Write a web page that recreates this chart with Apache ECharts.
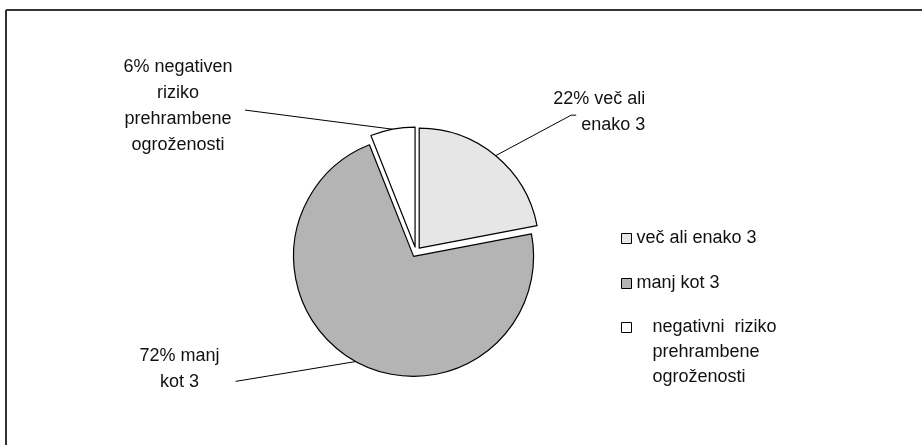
<!DOCTYPE html>
<html>
<head>
<meta charset="utf-8">
<script src="https://cdn.jsdelivr.net/npm/echarts@6/dist/echarts.min.js"></script>
<style>
html,body{margin:0;padding:0;background:#fff;}
#chart{width:922px;height:445px;}
</style>
</head>
<body>
<div id="chart"></div>
<script>
// ---- data ----
var categories = ['več ali enako 3', 'manj kot 3', 'negativni  riziko\nprehrambene\nogroženosti'];
var values = [22, 72, 6];
var sliceLabels = ['22% več ali\nenako 3', '72% manj\nkot 3', '6% negativen\nriziko\nprehrambene\nogroženosti'];
var sliceColors = ['#e6e6e6', '#b4b4b4', '#ffffff'];

// label placement (text anchors, alignment and leader-line ends)
var labelPos = [[642, 116], [182, 365], [179, 111]];
var labelAlign = ['right', 'center', 'center'];
var lineEnds = [[[568, 119], [573, 119]], [[238, 377]], [[246, 115]]];

var FONT = 'Liberation Sans, Arial, sans-serif';

var chart = echarts.init(document.getElementById('chart'), null, {renderer: 'canvas'});

var data = values.map(function (v, i) {
  return {
    name: categories[i],
    value: v,
    selected: true,
    itemStyle: {color: sliceColors[i], borderColor: '#000', borderWidth: 1.2},
    label: {formatter: sliceLabels[i]}
  };
});

function legendFor(i, top, extra) {
  return Object.assign({
    data: [categories[i]],
    orient: 'vertical',
    left: 621,
    top: top,
    padding: 0,
    itemWidth: 10,
    itemHeight: 10,
    icon: 'rect',
    selectedMode: false,
    itemStyle: {borderColor: '#000', borderWidth: 1},
    textStyle: {fontFamily: FONT, fontSize: 18, color: '#111', lineHeight: 25}
  }, extra || {});
}

var option = {
  backgroundColor: '#fff',
  animation: false,
  legend: [
    legendFor(0, 226),
    legendFor(1, 271),
    legendFor(2, 265, {
      formatter: function (name) { return '\n\n' + name; },
      textStyle: {fontFamily: FONT, fontSize: 18, color: '#111', lineHeight: 25, padding: [0, 0, 0, 16]}
    })
  ],
  graphic: [
    {type: 'line', shape: {x1: 6, y1: 10, x2: 922, y2: 10}, style: {stroke: '#333', lineWidth: 2}},
    {type: 'line', shape: {x1: 6, y1: 10, x2: 6, y2: 445}, style: {stroke: '#333', lineWidth: 2}}
  ],
  series: [{
    type: 'pie',
    center: [416, 252],
    radius: [0, 120],
    startAngle: 90,
    clockwise: true,
    selectedMode: 'multiple',
    selectedOffset: 5,
    avoidLabelOverlap: false,
    emphasis: {disabled: true},
    select: {itemStyle: {borderColor: '#000', borderWidth: 1.2}},
    label: {
      show: true,
      position: 'outside',
      fontFamily: FONT,
      fontSize: 18,
      lineHeight: 26,
      color: '#111'
    },
    labelLine: {show: true, length: 20, length2: 10, lineStyle: {color: '#000', width: 1}},
    labelLayout: function (params) {
      var i = params.dataIndex;
      var pts = params.labelLinePoints;
      var r = params.labelRect;
      var ax = params.align === 'left' ? r.x : (params.align === 'right' ? r.x + r.width : r.x + r.width / 2);
      var ay = params.verticalAlign === 'top' ? r.y : (params.verticalAlign === 'bottom' ? r.y + r.height : r.y + r.height / 2);
      var res = {
        align: labelAlign[i],
        verticalAlign: 'middle',
        dx: labelPos[i][0] - ax,
        dy: labelPos[i][1] - ay
      };
      if (pts && pts.length) {
        res.labelLinePoints = [pts[0]].concat(lineEnds[i]);
      }
      return res;
    },
    data: data
  }]
};
chart.setOption(option);
</script>
</body>
</html>
